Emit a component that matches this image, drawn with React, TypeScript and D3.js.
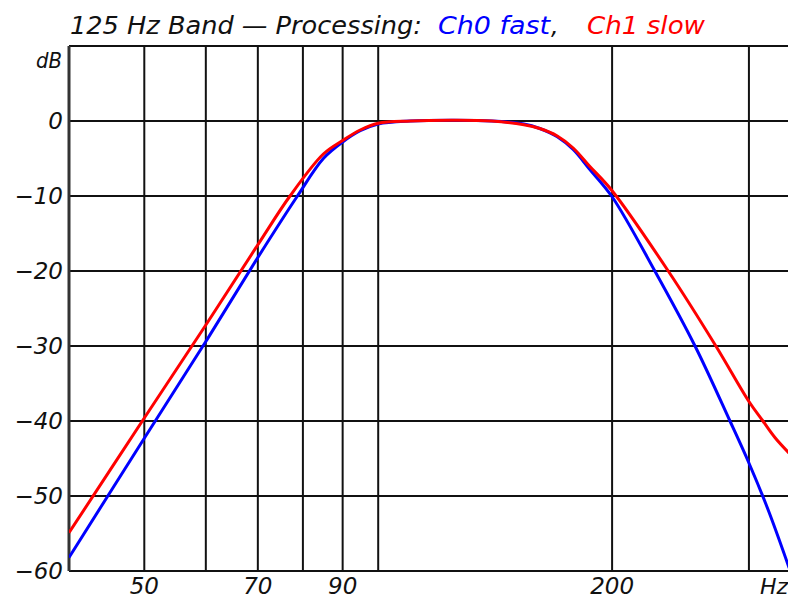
import React from 'react';
import * as d3 from 'd3';

// frequency response readings (Hz, dB)
const ch0Freq = [40, 50, 60, 70, 78.6, 85, 90, 94.8, 100, 110, 125, 140, 154, 161.4, 170, 178.2, 187, 200, 227, 255.7, 283.6, 300, 318, 338];
const ch0Db = [-58.2, -42.3, -29.4, -18.2, -10.1, -5, -2.8, -1.3, -0.4, 0, 0.1, 0, -0.4, -1.0, -2.1, -3.8, -6.4, -10.1, -20, -30, -40, -45.6, -52, -59.6];

const ch1Freq = [40, 50, 60, 70, 77.0, 85, 90, 94.8, 100, 110, 125, 140, 154, 161.4, 170, 178.2, 187, 200, 236.2, 272, 300, 312.7, 324, 338];
const ch1Db = [-54.9, -39.6, -27.2, -16.5, -10, -4.4, -2.6, -1.2, -0.3, 0, 0.1, 0, -0.5, -1.0, -2.0, -3.6, -6.0, -9.3, -20, -30, -37.4, -40, -42.2, -44.3];

const xGrid = [50, 60, 70, 80, 90, 100, 200, 300];
const xLabels = [50, 70, 90, 200];
const yTicks = [0, -10, -20, -30, -40, -50, -60];

const W = 788;
const H = 599;
const font = '"DejaVu Sans", sans-serif';

export default function App() {
  const x = d3.scaleLog().domain([40, 400]).range([69, 846]);
  const y = d3.scaleLinear().domain([-60, 10]).range([571, 46]);

  const line = d3
    .line<[number, number]>()
    .x(d => x(d[0]))
    .y(d => y(d[1]))
    .curve(d3.curveCatmullRom.alpha(0.5));

  const ch0 = ch0Freq.map((f, i) => [f, ch0Db[i]] as [number, number]);
  const ch1 = ch1Freq.map((f, i) => [f, ch1Db[i]] as [number, number]);

  const gridColor = '#111';

  return (
    <svg width={W} height={H} style={{ position: 'absolute', left: 0, top: 0, background: '#fff' }}>
      <defs>
        <clipPath id="plot">
          <rect x={69} y={45} width={W - 69} height={527} />
        </clipPath>
      </defs>

      {/* title */}
      <g fontFamily={font} fontStyle="italic" fontSize={24}>
        <text x={70} y={34} fill="#111" textLength={352} lengthAdjust="spacingAndGlyphs">125 Hz Band — Processing:</text>
        <text x={438} y={34} fill="#0000ff" textLength={112} lengthAdjust="spacingAndGlyphs">Ch0 fast</text>
        <text x={551} y={34} fill="#111">,</text>
        <text x={587} y={34} fill="#ff0000" textLength={118} lengthAdjust="spacingAndGlyphs">Ch1 slow</text>
      </g>

      {/* grid */}
      <g stroke={gridColor} strokeWidth={2}>
        {yTicks.map(t => (
          <line key={t} x1={69} x2={W} y1={y(t)} y2={y(t)} />
        ))}
        <line x1={69} x2={W} y1={y(10)} y2={y(10)} />
        {xGrid.map(f => (
          <line key={f} x1={x(f)} x2={x(f)} y1={y(10)} y2={y(-60)} />
        ))}
        <line x1={69} x2={69} y1={y(10)} y2={y(-60)} strokeWidth={3} stroke="#333" />
      </g>

      {/* curves */}
      <g clipPath="url(#plot)" fill="none" strokeWidth={3} strokeLinejoin="round">
        <path d={line(ch0) || ''} stroke="#0000ff" />
        <path d={line(ch1) || ''} stroke="#ff0000" />
      </g>

      {/* axis labels */}
      <g fontFamily={font} fontStyle="italic" fontSize={23} fill="#111">
        {yTicks.map(t => (
          <text key={t} x={63} y={y(t) + 8} textAnchor="end">
            {t < 0 ? '−' + Math.abs(t) : String(t)}
          </text>
        ))}
        <text x={36} y={68} fontSize={21} textLength={26} lengthAdjust="spacingAndGlyphs">dB</text>
        {xLabels.map(f => (
          <text key={f} x={x(f)} y={594} textAnchor="middle">{f}</text>
        ))}
        <text x={760} y={594} fontSize={22}>Hz</text>
      </g>
    </svg>
  );
}
